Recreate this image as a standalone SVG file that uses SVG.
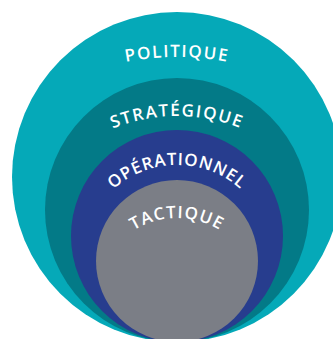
<svg xmlns="http://www.w3.org/2000/svg" width="333" height="339" viewBox="0 0 333 339">
<defs>
<style>
.lbl{font-family:"Open Sans","Liberation Sans",sans-serif;font-weight:600;font-size:17px;fill:#ffffff;text-anchor:middle}
</style>
<path id="arcPol" d="M -97 331 A 274 274 0 0 1 451 331"/>
<path id="arcStr" d="M 6.5 286.5 A 170.5 170.5 0 0 1 347.5 286.5"/>
<path id="arcOpe" d="M 81 261 A 96 96 0 0 1 273 261"/>
<path id="arcTac" d="M 95.5 299.5 A 81.5 81.5 0 0 1 258.5 299.5"/>
</defs>
<rect width="333" height="339" fill="#ffffff"/>
<g id="politique">
<circle cx="177" cy="177" r="165" fill="#05A9B8"/>
<text class="lbl" letter-spacing="1.6"><textPath href="#arcPol" startOffset="50%">POLITIQUE</textPath></text>
</g>
<g id="strategique">
<circle cx="177" cy="210" r="132" fill="#037A87"/>
<text class="lbl" letter-spacing="1.7"><textPath href="#arcStr" startOffset="50%">STRATÉGIQUE</textPath></text>
</g>
<g id="operationnel">
<circle cx="177" cy="236" r="106" fill="#273D8E"/>
<text class="lbl" letter-spacing="0.9"><textPath href="#arcOpe" startOffset="50%">OPÉRATIONNEL</textPath></text>
</g>
<g id="tactique">
<circle cx="177" cy="261" r="81" fill="#7B7E86"/>
<text class="lbl" letter-spacing="1.2"><textPath href="#arcTac" startOffset="50%">TACTIQUE</textPath></text>
</g>
</svg>
